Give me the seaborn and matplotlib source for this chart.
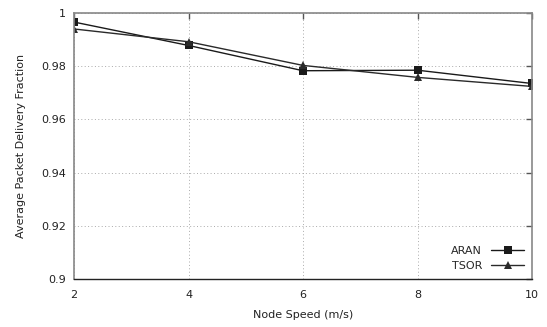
import matplotlib
matplotlib.use("Agg")
import matplotlib.pyplot as plt
import seaborn as sns
import pandas as pd

speeds = [2, 4, 6, 8, 10]
aran = [0.9966, 0.9878, 0.9783, 0.9785, 0.9735]
tsor = [0.9940, 0.9892, 0.9803, 0.9758, 0.9724]
xticks = [2, 4, 6, 8, 10]
yticks = [0.9, 0.92, 0.94, 0.96, 0.98, 1.0]
ytick_labels = ["0.9", "0.92", "0.94", "0.96", "0.98", "1"]

df = pd.DataFrame({
    "speed": speeds * 2,
    "pdf": aran + tsor,
    "protocol": ["ARAN"] * len(speeds) + ["TSOR"] * len(speeds),
})

sns.set_style("white")
plt.rcParams["font.family"] = ["DejaVu Sans"]

fig = plt.figure(figsize=(5.47, 3.27), dpi=100)
ax = fig.add_axes([0.1353, 0.1468, 0.8373, 0.8134])

sns.lineplot(
    data=df, x="speed", y="pdf", hue="protocol", style="protocol",
    markers={"ARAN": "s", "TSOR": "^"}, dashes=False,
    palette={"ARAN": "#1a1a1a", "TSOR": "#2a2a2a"},
    markersize=6, linewidth=1.0, markeredgewidth=0, ax=ax,
)

ax.set_xlim(2, 10)
ax.set_ylim(0.9, 1.0)
ax.set_xticks(xticks)
ax.set_xticklabels([str(v) for v in xticks])
ax.set_yticks(yticks)
ax.set_yticklabels(ytick_labels)
ax.tick_params(axis="both", direction="in", length=4, width=1, color="#555555",
               labelsize=8, labelcolor="#222222", pad=6,
               top=True, right=True)
ax.tick_params(axis="x", pad=8)
ax.grid(True, linestyle=(0, (1, 2.5)), color="#aaaaaa", linewidth=0.7)
for name, s in ax.spines.items():
    s.set_color("#888888")
    s.set_linewidth(1.2)
ax.spines["bottom"].set_color("#222222")
ax.spines["bottom"].set_linewidth(1.0)

ax.set_xlabel("Node Speed (m/s)", fontsize=8, color="#222222", labelpad=7)
ax.set_ylabel("Average Packet Delivery Fraction", fontsize=8, color="#222222", labelpad=11)

leg = ax.legend(loc="lower right", frameon=False, markerfirst=False, fontsize=8,
                handlelength=3.0, labelspacing=0.45, borderaxespad=0.3)
leg.set_title(None)

fig.savefig("out.png", dpi=100)
